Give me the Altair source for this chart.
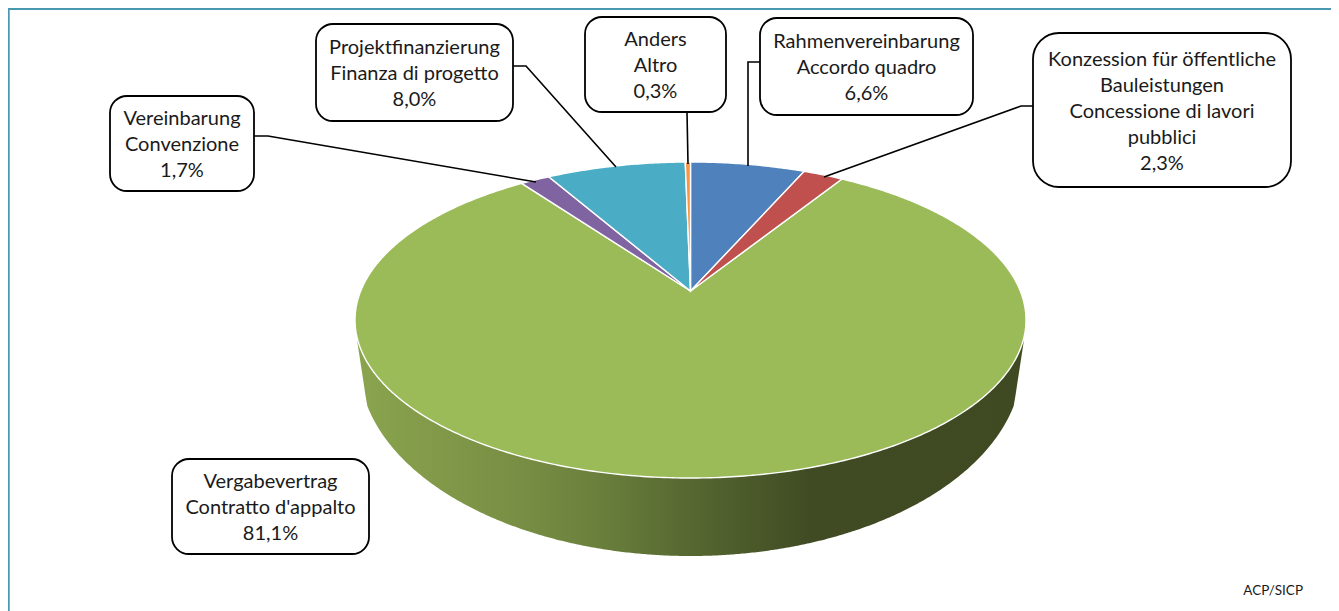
import numpy as np
import pandas as pd
import altair as alt

# --- values ---
names = ["Rahmenvereinbarung", "Konzession", "Vergabevertrag", "Vereinbarung", "Projektfinanzierung", "Anders"]
shares = [6.6, 2.3, 81.1, 1.7, 8.0, 0.3]
colors = ["#4F81BD", "#C0504D", "#9BBB59", "#8064A2", "#4BACC6", "#F79646"]
label_lines = [
    ["Rahmenvereinbarung", "Accordo quadro", "6,6%"],
    ["Konzession für öffentliche", "Bauleistungen", "Concessione di lavori", "pubblici", "2,3%"],
    ["Vergabevertrag", "Contratto d'appalto", "81,1%"],
    ["Vereinbarung", "Convenzione", "1,7%"],
    ["Projektfinanzierung", "Finanza di progetto", "8,0%"],
    ["Anders", "Altro", "0,3%"],
]
box_x1 = [760, 1033, 172, 110, 316, 585]
box_x2 = [973, 1291, 369, 254, 513, 726]
box_y1 = [18, 33, 459, 96, 24, 17]
box_y2 = [115, 187, 554, 191, 121, 112]
box_r = [17, 26, 17, 17, 17, 17]
text_cy = [68, 112, 508, 145, 74, 66]
leaders = [
    [(760, 62), (748, 62), (748, 166)],
    [(1033, 106), (1021, 106), (824, 177)],
    [],
    [(254, 136), (268, 136), (536, 182)],
    [(513, 66), (526, 66), (616, 167)],
    [(687, 112), (688, 164)],
]

FONT = "Lato"
FS = 20
LH = 26.2
W, H = 1323, 603
xs = alt.X("x:Q", axis=None, scale=alt.Scale(domain=[8, 1331], nice=False, zero=False))
ys = alt.Y("y:Q", axis=None, scale=alt.Scale(domain=[611, 8], nice=False, zero=False))

# perspective projection of the pie disc
CX, CY, A, B, K = 690.5, 291.0, 329.8, 152.7, 0.1835


def project(t):
    X, Y = np.sin(t), np.cos(t)
    d = 1 + K * Y
    return CX + A * X / d, CY - B * Y / d


layers = []

# side wall
ECX, ECY, RX, RY = 690.5, 320.0, 335.5, 158.0
BCY, BRX, BRY = 363.0, 331.5, 193.0
wx = np.linspace(357.5, 1023.5, 340)
top = ECY + RY * np.sqrt(np.clip(1 - ((wx - ECX) / RX) ** 2, 0, 1))
bot = BCY + BRY * np.sqrt(np.clip(1 - ((wx - ECX) / BRX) ** 2, 0, 1))
edge = 8.0
lm = wx < ECX - BRX + edge
rm = wx > ECX + BRX - edge
yl = BCY + BRY * np.sqrt(1 - ((BRX - edge) / BRX) ** 2)
bot[lm] = 343 + (yl - 343) * (wx[lm] - wx[0]) / (ECX - BRX + edge - wx[0])
bot[rm] = 343 + (yl - 343) * (wx[-1] - wx[rm]) / (wx[-1] - (ECX + BRX - edge))
wall = pd.DataFrame({"x": wx, "y": top, "y2": bot})
layers.append(
    alt.Chart(wall).mark_area(
        interpolate="linear",
        color=alt.Gradient(
            gradient="linear", x1=0, x2=1, y1=0, y2=0,
            stops=[
                alt.GradientStop(offset=0, color="#8AA44E"),
                alt.GradientStop(offset=0.244, color="#788E44"),
                alt.GradientStop(offset=0.364, color="#6A7F3C"),
                alt.GradientStop(offset=0.484, color="#586A32"),
                alt.GradientStop(offset=0.68, color="#404B23"),
                alt.GradientStop(offset=1, color="#3F4A22"),
            ],
        ),
    ).encode(x=xs, y=ys, y2="y2:Q")
)

# top slices, clockwise from twelve o'clock; the large slice is drawn first
edges = np.cumsum([0] + shares) / 100 * 2 * np.pi
for i in [2, 0, 1, 3, 4, 5]:
    n = max(3, int(shares[i] * 6))
    t = np.linspace(edges[i], edges[i + 1], n)
    px, py = project(t)
    df = pd.DataFrame({"x": np.r_[CX, px], "y": np.r_[CY, py], "o": np.arange(n + 1)})
    layers.append(
        alt.Chart(df).mark_line(
            interpolate="linear-closed", fill=colors[i], stroke="#FFFFFF", strokeWidth=1.4
        ).encode(x=xs, y=ys, order="o:Q")
    )

# leader lines
rows = []
for i, pts in enumerate(leaders):
    for j, (x, y) in enumerate(pts):
        rows.append({"x": x, "y": y, "s": names[i], "o": j})
layers.append(
    alt.Chart(pd.DataFrame(rows)).mark_line(color="#000000", strokeWidth=1.6).encode(
        x=xs, y=ys, detail="s:N", order="o:Q"
    )
)

# label boxes
for i in range(len(names)):
    b = pd.DataFrame({"x": [box_x1[i]], "x2": [box_x2[i]], "y": [box_y1[i]], "y2": [box_y2[i]]})
    layers.append(
        alt.Chart(b).mark_rect(
            fill="#FFFFFF", stroke="#000000", strokeWidth=1.8, cornerRadius=box_r[i]
        ).encode(x=xs, x2="x2:Q", y=ys, y2="y2:Q")
    )

# label text
rows = []
for i, lines in enumerate(label_lines):
    c = (box_x1[i] + box_x2[i]) / 2
    for j, s in enumerate(lines):
        rows.append({"x": c, "y": text_cy[i] + (j - (len(lines) - 1) / 2) * LH, "t": s})
layers.append(
    alt.Chart(pd.DataFrame(rows)).mark_text(
        font=FONT, fontSize=FS, color="#1A1A1A", align="center", baseline="middle"
    ).encode(x=xs, y=ys, text="t:N")
)

# frame and source note
layers.append(
    alt.Chart(pd.DataFrame({"x": [8, 1331], "y": [9, 9]})).mark_line(color="#4A98B0", strokeWidth=2).encode(x=xs, y=ys)
)
layers.append(
    alt.Chart(pd.DataFrame({"x": [8.8, 8.8], "y": [8, 611], "o": [0, 1]})).mark_line(color="#4A98B0", strokeWidth=1.8).encode(x=xs, y=ys, order="o:Q")
)
layers.append(
    alt.Chart(pd.DataFrame({"x": [1303], "y": [591], "t": ["ACP/SICP"]})).mark_text(
        font=FONT, fontSize=13.5, color="#1A1A1A", align="right", baseline="middle"
    ).encode(x=xs, y=ys, text="t:N")
)

chart = alt.layer(*layers).properties(
    width=W, height=H, padding=0, autosize=alt.AutoSizeParams(type="none"),
    background="#FFFFFF",
).configure_view(stroke=None)
chart.save("out.html", embed_options={"renderer": "svg", "actions": False})
